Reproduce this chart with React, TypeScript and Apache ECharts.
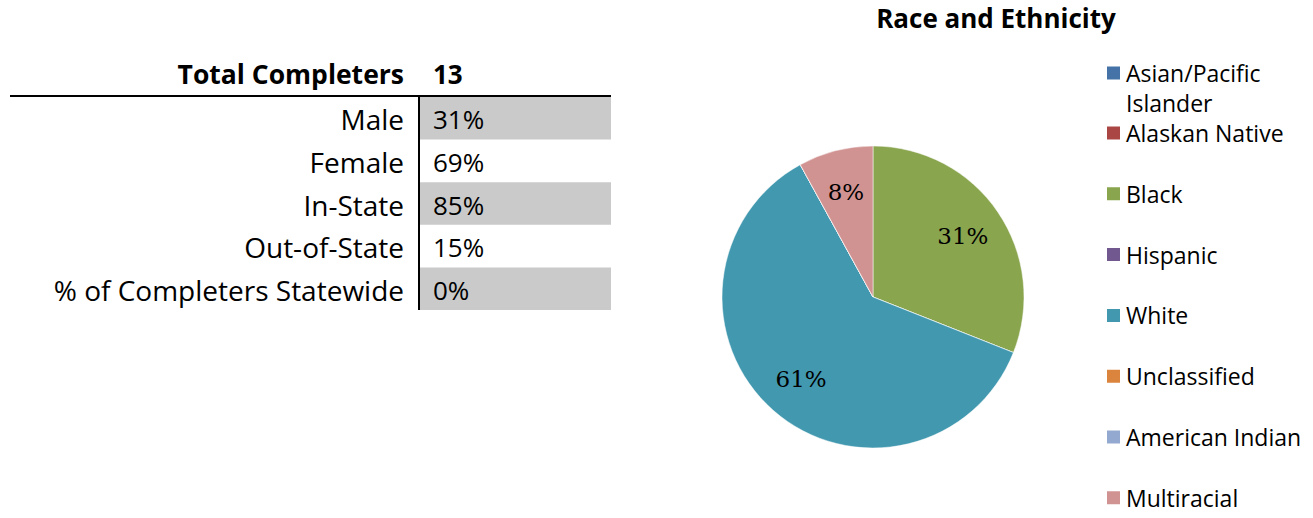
import React, { useEffect, useRef } from "react";
import * as echarts from "echarts";

const raceCategories = [
  "Asian/Pacific Islander",
  "Alaskan Native",
  "Black",
  "Hispanic",
  "White",
  "Unclassified",
  "American Indian",
  "Multiracial",
];
const racePercents = [0, 0, 31, 0, 61, 0, 0, 8];
const raceColors = ["#4572A7", "#AA4643", "#89A54E", "#71588F", "#4198AF", "#DB843D", "#93A9CF", "#D19392"];

const totalLabel = "Total Completers";
const totalValue = "13";
const tableLabels = ["Male", "Female", "In-State", "Out-of-State", "% of Completers Statewide"];
const tableValues = ["31%", "69%", "85%", "15%", "0%"];

const SANS = "'Open Sans', 'Noto Sans', sans-serif";
const SERIF = "'DejaVu Serif', 'Liberation Serif', serif";

export default function App() {
  const ref = useRef<HTMLDivElement>(null);

  useEffect(() => {
    document.body.style.margin = "0";
    const chart = echarts.init(ref.current!, null, { renderer: "svg" });

    const cx = 873;
    const cy = 297;
    const R = 151;
    const total = racePercents.reduce((a, b) => a + b, 0);
    const midAngles: number[] = [];
    let acc = 0;
    racePercents.forEach((v) => {
      const a0 = (acc / total) * 2 * Math.PI;
      acc += v;
      const a1 = (acc / total) * 2 * Math.PI;
      midAngles.push((a0 + a1) / 2);
    });
    const labelK = 0.72;

    // table graphics
    const rowTop = 97;
    const rowH = 42.6;
    const graphics: any[] = [];
    tableLabels.forEach((_, i) => {
      if (i % 2 === 0) {
        graphics.push({
          type: "rect",
          shape: { x: 420, y: rowTop + i * rowH, width: 191, height: rowH },
          style: { fill: "#cacaca" },
          silent: true,
        });
      }
    });
    graphics.push({
      type: "line",
      shape: { x1: 10, y1: 96, x2: 611, y2: 96 },
      style: { stroke: "#000", lineWidth: 2 },
    });
    graphics.push({
      type: "line",
      shape: { x1: 419, y1: 96, x2: 419, y2: rowTop + tableLabels.length * rowH },
      style: { stroke: "#000", lineWidth: 2 },
    });
    graphics.push({
      type: "text",
      x: 404,
      y: 74,
      style: { text: totalLabel, align: "right", verticalAlign: "middle", font: `bold 26.5px ${SANS}`, fill: "#000" },
    });
    graphics.push({
      type: "text",
      x: 433,
      y: 74,
      style: { text: totalValue, align: "left", verticalAlign: "middle", font: `bold 26px ${SANS}`, fill: "#000" },
    });
    tableLabels.forEach((lab, i) => {
      const yc = rowTop + i * rowH + rowH / 2 + 1;
      graphics.push({
        type: "text",
        x: 404,
        y: yc,
        style: { text: lab, align: "right", verticalAlign: "middle", font: `28px ${SANS}`, fill: "#000" },
      });
      graphics.push({
        type: "text",
        x: 433,
        y: yc,
        style: { text: tableValues[i], align: "left", verticalAlign: "middle", font: `26px ${SANS}`, fill: "#000" },
      });
    });

    const legendCommon = {
      orient: "vertical",
      left: 1105,
      icon: "rect",
      itemWidth: 15,
      itemHeight: 15,
      padding: 0,
      height: 420,
      selectedMode: false,
    };

    chart.setOption({
      animation: false,
      title: {
        text: "Race and Ethnicity",
        left: 996,
        top: 5,
        padding: 0,
        textAlign: "center",
        textStyle: { fontFamily: SANS, fontWeight: "bold", fontSize: 26, color: "#000" },
      },
      legend: [
        {
          ...legendCommon,
          top: 28,
          itemGap: 31.7,
          data: [raceCategories[0]],
          formatter: () => " \nAsian/Pacific\nIslander",
          textStyle: { fontFamily: SANS, fontSize: 23, lineHeight: 30, color: "#000" },
        },
        {
          ...legendCommon,
          top: 121,
          itemGap: 36.8,
          data: raceCategories.slice(1),
          textStyle: { fontFamily: SANS, fontSize: 23, lineHeight: 24, color: "#000" },
        },
      ],
      graphic: graphics,
      series: [
        {
          type: "pie",
          center: [cx, cy],
          radius: R,
          startAngle: 90,
          clockwise: true,
          data: raceCategories.map((name, i) => ({
            name,
            value: racePercents[i],
            itemStyle: { color: raceColors[i] },
          })),
          itemStyle: { borderColor: "#fff", borderWidth: 0.5 },
          label: {
            show: true,
            position: "inside",
            formatter: (p: any) => (p.value > 0 ? `${p.value}%` : ""),
            fontFamily: SERIF,
            fontSize: 23,
            color: "#000",
          },
          labelLine: { show: false },
          labelLayout: (p: any) => {
            const a = midAngles[p.dataIndex];
            return {
              x: cx + labelK * R * Math.sin(a),
              y: cy - labelK * R * Math.cos(a),
              align: "center",
              verticalAlign: "middle",
            };
          },
          emphasis: { disabled: true },
        },
      ],
    });

    return () => chart.dispose();
  }, []);

  return <div ref={ref} style={{ width: 1313, height: 518 }} />;
}
